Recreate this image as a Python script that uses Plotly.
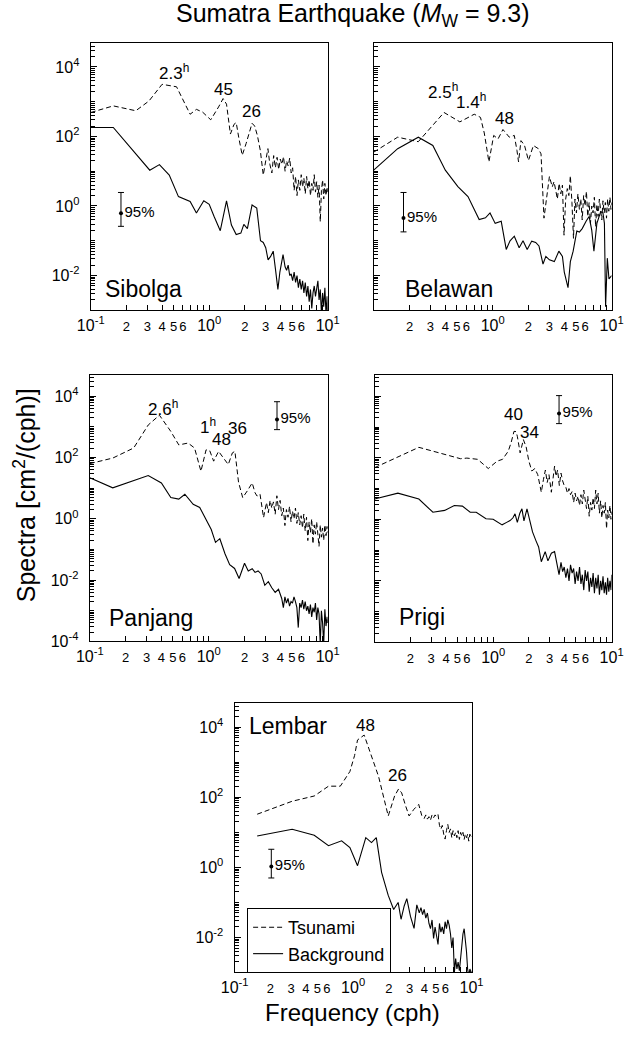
import numpy as np
import plotly.graph_objects as go

# ------------------------------------------------------------------
# Spectra of tide-gauge records, 2004 Sumatra earthquake.
# Each list holds (frequency [cph], log10 spectral density [cm^2/cph]).
# ------------------------------------------------------------------
sibolga_tsunami = [
    (0.100, 2.69), (0.155, 2.88), (0.240, 2.74), (0.310, 3.02), (0.400, 3.50), (0.530, 3.43),
    (0.690, 2.64), (0.780, 2.78), (0.880, 2.70), (1.030, 2.48), (1.200, 2.85), (1.310, 3.09),
    (1.400, 2.93), (1.510, 2.07), (1.620, 2.35), (1.690, 2.40), (1.780, 1.95), (1.900, 1.46),
    (2.050, 1.80), (2.300, 2.38), (2.420, 2.30), (2.550, 2.03), (2.700, 1.60), (2.860, 0.89),
    (3.000, 1.30), (3.130, 1.65), (3.250, 1.20), (3.380, 0.95), (3.500, 1.45), (3.620, 1.10),
    (3.740, 1.40), (3.860, 1.05), (3.980, 1.35), (4.110, 1.20), (4.240, 1.42), (4.370, 1.00),
    (4.500, 1.30), (4.640, 1.15), (4.780, 1.38), (4.920, 0.95), (5.060, 1.10), (5.210, 0.45),
    (5.360, 0.85), (5.510, 0.30), (5.660, 0.75), (5.820, 0.45), (5.980, 0.90), (6.140, 0.55),
    (6.300, 0.80), (6.470, 0.35), (6.640, 0.85), (6.810, 0.50), (6.980, 0.75), (7.160, 0.30),
    (7.340, 0.65), (7.520, 0.45), (7.700, 0.90), (7.890, 0.40), (8.080, 0.70), (8.270, 0.25),
    (8.460, 0.60), (8.660, -0.45), (8.860, 0.45), (9.060, 0.75), (9.260, 0.20), (9.470, 0.65),
    (9.680, 0.30), (9.890, 0.55), (10.00, 0.40),
]
sibolga_background = [
    (0.100, 2.26), (0.155, 2.26), (0.315, 1.03), (0.380, 1.19), (0.460, 0.89), (0.550, 0.27),
    (0.690, 0.13), (0.780, -0.20), (0.900, 0.15), (1.000, 0.05), (1.100, -0.30), (1.240, -0.71),
    (1.400, 0.15), (1.540, -0.55), (1.690, -0.82), (1.850, -0.78), (1.960, -0.53), (2.100, -0.65),
    (2.300, 0.03), (2.520, -0.06), (2.710, -1.00), (2.860, -1.05), (3.000, -1.20), (3.140, -1.55),
    (3.300, -1.45), (3.470, -1.30), (3.620, -1.80), (3.800, -2.40), (3.950, -1.90), (4.200, -1.40),
    (4.370, -1.75), (4.500, -1.85), (4.640, -1.70), (4.780, -2.00), (4.920, -1.95), (5.060, -2.15),
    (5.210, -1.90), (5.360, -2.20), (5.510, -2.00), (5.660, -2.35), (5.820, -2.10), (5.980, -2.40),
    (6.140, -2.15), (6.300, -2.50), (6.470, -2.20), (6.640, -2.60), (6.810, -2.30), (6.980, -2.75),
    (7.160, -2.40), (7.340, -2.95), (7.520, -2.50), (7.700, -2.30), (7.890, -2.60), (8.080, -2.40),
    (8.270, -2.15), (8.460, -2.70), (8.660, -2.40), (8.860, -3.10), (9.060, -2.50), (9.260, -2.90),
    (9.470, -2.35), (9.680, -3.10), (9.890, -2.60), (10.00, -3.20),
]

belawan_tsunami = [
    (0.100, 1.55), (0.159, 1.98), (0.237, 1.85), (0.390, 2.69), (0.530, 2.42), (0.700, 2.64),
    (0.790, 2.55), (0.850, 2.10), (0.930, 1.27), (1.020, 2.03), (1.110, 1.93), (1.220, 2.20),
    (1.380, 1.98), (1.520, 2.03), (1.600, 1.60), (1.650, 1.27), (1.730, 1.88), (1.850, 1.75),
    (2.000, 1.31), (2.200, 1.74), (2.420, 1.65), (2.550, 1.50), (2.700, -0.35), (2.850, 0.30),
    (3.000, 0.85), (3.170, 0.55), (3.280, 0.70), (3.390, 0.45), (3.500, 0.20), (3.620, 0.65),
    (3.740, 0.35), (3.860, 0.60), (3.980, -0.84), (4.110, 0.20), (4.240, 0.50), (4.370, 0.30),
    (4.500, 0.87), (4.640, 0.10), (4.780, -0.93), (4.920, 0.20), (5.060, -0.20), (5.210, 0.35),
    (5.360, -0.10), (5.510, 0.20), (5.660, -0.40), (5.820, 0.30), (5.980, 0.00), (6.140, 0.42),
    (6.300, -0.30), (6.470, 0.10), (6.640, -0.50), (6.810, 0.00), (6.980, -0.20), (7.160, 0.25),
    (7.340, -0.60), (7.520, 0.05), (7.700, -0.30), (7.890, 0.20), (8.080, -0.10), (8.270, -0.40),
    (8.460, 0.15), (8.660, -0.20), (8.860, 0.10), (9.060, -0.35), (9.260, 0.20), (9.470, -0.15),
    (9.680, 0.25), (9.890, -0.10), (10.00, 0.10),
]
belawan_background = [
    (0.100, 1.03), (0.159, 1.65), (0.237, 1.98), (0.314, 1.74), (0.400, 1.03), (0.510, 0.56),
    (0.620, 0.27), (0.770, -0.39), (0.870, -0.34), (0.950, -0.20), (1.050, -0.50), (1.180, -0.44),
    (1.300, -1.25), (1.400, -1.00), (1.520, -0.87), (1.670, -1.20), (1.800, -1.00), (1.950, -1.25),
    (2.130, -1.01), (2.300, -1.05), (2.450, -1.15), (2.650, -1.67), (2.800, -1.45), (3.000, -1.55),
    (3.300, -1.60), (3.600, -1.30), (3.860, -1.45), (4.000, -1.90), (4.300, -2.35), (4.500, -1.60),
    (4.750, -1.30), (5.100, -0.72), (5.360, -0.75), (5.660, -0.65), (6.100, -0.44), (6.470, -0.30),
    (6.810, -0.70), (7.100, -1.30), (7.520, -0.50), (8.100, -0.16), (8.460, -0.20), (8.700, -0.50),
    (8.900, -2.90), (9.200, -1.50), (9.500, -2.10), (10.00, -2.00),
]

panjang_tsunami = [
    (0.100, 1.80), (0.156, 1.98), (0.234, 2.31), (0.310, 3.06), (0.385, 3.38), (0.480, 2.85),
    (0.560, 2.41), (0.670, 2.47), (0.760, 2.31), (0.860, 1.55), (0.950, 2.25), (1.020, 2.22),
    (1.100, 1.88), (1.210, 2.20), (1.320, 2.00), (1.460, 1.77), (1.580, 2.15), (1.660, 2.20),
    (1.780, 1.20), (1.930, 0.69), (2.110, 0.91), (2.320, 1.17), (2.450, 0.85), (2.550, 0.74),
    (2.700, 0.80), (2.890, 0.04), (3.060, 0.53), (3.170, 0.20), (3.280, 0.60), (3.390, 0.35),
    (3.500, 0.55), (3.620, 0.15), (3.740, 0.75), (3.860, 0.30), (3.980, 0.60), (4.110, 0.10),
    (4.240, 0.35), (4.370, -0.22), (4.500, 0.30), (4.640, 0.05), (4.780, 0.40), (4.920, -0.10),
    (5.060, 0.25), (5.210, 0.00), (5.360, 0.35), (5.510, -0.15), (5.660, 0.20), (5.820, -0.20),
    (5.980, 0.10), (6.140, -0.30), (6.300, 0.15), (6.470, -0.40), (6.640, 0.05), (6.810, -0.71),
    (6.980, -0.10), (7.160, -0.45), (7.340, 0.00), (7.520, -0.82), (7.700, -0.20), (7.890, -0.50),
    (8.080, -0.10), (8.270, -0.55), (8.460, -0.90), (8.660, -0.20), (8.860, -0.60), (9.060, -0.30),
    (9.260, -0.70), (9.470, -0.20), (9.680, -0.55), (9.890, -0.25), (10.00, -0.45),
]
panjang_background = [
    (0.100, 1.34), (0.156, 1.01), (0.310, 1.41), (0.400, 1.17), (0.480, 0.69), (0.560, 0.64),
    (0.630, 0.80), (0.740, 0.47), (0.840, 0.37), (0.950, -0.01), (1.050, -0.35), (1.140, -0.77),
    (1.240, -0.65), (1.370, -1.14), (1.500, -1.50), (1.650, -1.62), (1.800, -1.95), (2.000, -1.45),
    (2.150, -1.70), (2.320, -1.63), (2.450, -1.75), (2.600, -1.70), (2.760, -1.80), (2.960, -2.17),
    (3.170, -2.05), (3.390, -2.25), (3.620, -2.40), (3.860, -2.30), (4.110, -2.60), (4.240, -2.90),
    (4.370, -2.55), (4.500, -2.75), (4.640, -2.60), (4.780, -2.85), (4.920, -2.70), (5.060, -2.75),
    (5.210, -2.55), (5.360, -2.70), (5.510, -2.90), (5.660, -3.55), (5.820, -2.75), (5.980, -2.90),
    (6.140, -2.65), (6.300, -2.95), (6.470, -2.70), (6.640, -3.00), (6.810, -2.85), (6.980, -3.10),
    (7.160, -2.80), (7.340, -3.20), (7.520, -2.90), (7.700, -3.05), (7.890, -2.75), (8.080, -3.30),
    (8.270, -2.90), (8.460, -3.10), (8.660, -4.10), (8.860, -3.00), (9.060, -3.40), (9.260, -4.10),
    (9.470, -2.95), (9.680, -3.50), (9.890, -3.20), (10.00, -3.40),
]

prigi_tsunami = [
    (0.100, 1.68), (0.152, 2.00), (0.236, 2.34), (0.350, 2.16), (0.530, 1.97), (0.600, 1.99),
    (0.740, 1.95), (0.910, 1.65), (1.080, 1.89), (1.200, 1.95), (1.260, 2.05), (1.340, 2.21),
    (1.420, 2.50), (1.500, 2.86), (1.560, 2.85), (1.600, 2.70), (1.690, 2.16), (1.800, 2.59),
    (1.900, 2.35), (2.000, 1.90), (2.120, 1.57), (2.250, 1.65), (2.380, 1.45), (2.550, 0.88),
    (2.660, 1.30), (2.760, 1.60), (2.860, 1.20), (2.960, 1.45), (3.100, 0.88), (3.200, 1.30),
    (3.300, 1.73), (3.390, 1.40), (3.500, 1.60), (3.620, 1.10), (3.740, 1.50), (3.860, 1.25),
    (3.980, 1.10), (4.110, 1.04), (4.240, 0.85), (4.370, 1.00), (4.500, 0.80), (4.640, 0.90),
    (4.780, 0.55), (4.920, 0.85), (5.060, 0.60), (5.210, 0.75), (5.360, 0.45), (5.510, 0.80),
    (5.660, 0.50), (5.820, 0.95), (5.980, 0.60), (6.140, 0.35), (6.300, 0.75), (6.470, 0.10),
    (6.640, 0.55), (6.810, 0.30), (6.980, 0.70), (7.160, 0.35), (7.340, 0.95), (7.520, 0.50),
    (7.700, 0.85), (7.890, 0.20), (8.080, 0.60), (8.270, 0.05), (8.460, 0.45), (8.660, 0.20),
    (8.860, 0.55), (9.060, -0.30), (9.260, 0.30), (9.470, 0.05), (9.680, 0.45), (9.890, 0.00),
    (10.00, 0.25),
]
prigi_background = [
    (0.100, 0.66), (0.157, 0.85), (0.236, 0.66), (0.310, 0.23), (0.390, 0.29), (0.470, 0.45),
    (0.550, 0.43), (0.640, 0.23), (0.720, 0.23), (0.870, 0.02), (1.000, 0.00), (1.190, -0.18),
    (1.300, -0.10), (1.390, -0.04), (1.470, 0.05), (1.530, 0.18), (1.600, -0.10), (1.680, 0.20),
    (1.750, 0.34), (1.820, -0.05), (1.930, 0.34), (2.050, -0.10), (2.150, -0.41), (2.300, -0.70),
    (2.420, -0.90), (2.550, -1.38), (2.660, -1.15), (2.750, -1.05), (2.900, -1.35), (3.100, -1.10),
    (3.300, -1.05), (3.450, -1.50), (3.600, -1.80), (3.740, -1.40), (3.860, -1.70), (3.980, -1.55),
    (4.110, -1.90), (4.240, -1.60), (4.370, -2.00), (4.500, -1.48), (4.640, -1.75), (4.780, -1.60),
    (4.920, -2.10), (5.060, -1.70), (5.210, -2.00), (5.360, -1.55), (5.510, -2.10), (5.660, -1.80),
    (5.820, -2.30), (5.980, -1.65), (6.140, -2.00), (6.300, -1.70), (6.470, -2.35), (6.640, -1.90),
    (6.810, -2.20), (6.980, -1.75), (7.160, -2.40), (7.340, -1.90), (7.520, -2.25), (7.700, -1.80),
    (7.890, -2.45), (8.080, -2.00), (8.270, -2.30), (8.460, -1.85), (8.660, -2.40), (8.860, -2.05),
    (9.060, -2.45), (9.260, -1.90), (9.470, -2.35), (9.680, -2.00), (9.890, -2.30), (10.00, -1.80),
]

lembar_tsunami = [
    (0.155, 1.52), (0.306, 1.89), (0.470, 2.04), (0.620, 2.32), (0.780, 2.32), (0.940, 2.74),
    (1.030, 3.20), (1.090, 3.64), (1.240, 3.78), (1.400, 3.26), (1.640, 2.60), (1.980, 1.47),
    (2.240, 2.04), (2.420, 2.24), (2.570, 2.13), (2.780, 1.75), (2.970, 1.47), (3.260, 1.66),
    (3.580, 1.80), (3.800, 1.48), (3.980, 1.40), (4.110, 1.50), (4.240, 1.38), (4.370, 1.45),
    (4.500, 1.35), (4.640, 1.50), (4.780, 1.42), (4.920, 1.50), (5.060, 1.45), (5.210, 1.51),
    (5.360, 1.20), (5.510, 1.09), (5.660, 1.20), (5.820, 0.95), (5.980, 0.81), (6.140, 1.05),
    (6.300, 1.23), (6.470, 1.00), (6.640, 1.10), (6.810, 0.85), (6.980, 1.05), (7.160, 0.90),
    (7.340, 1.00), (7.520, 0.85), (7.700, 1.05), (7.890, 0.80), (8.080, 1.00), (8.270, 0.90),
    (8.460, 1.00), (8.660, 0.80), (8.860, 0.95), (9.060, 0.85), (9.260, 0.95), (9.470, 0.75),
    (9.680, 0.95), (9.890, 0.85), (10.00, 0.90),
]
lembar_background = [
    (0.155, 0.90), (0.306, 1.09), (0.470, 0.92), (0.620, 0.62), (0.800, 0.76), (0.940, 0.57),
    (1.090, 0.05), (1.280, 0.85), (1.430, 0.71), (1.570, 0.85), (1.740, -0.14), (1.980, -0.80),
    (2.200, -1.20), (2.400, -1.00), (2.540, -1.48), (2.700, -1.10), (2.840, -0.89), (3.050, -1.40),
    (3.270, -1.74), (3.450, -1.07), (3.620, -1.30), (3.740, -1.15), (3.860, -1.35), (3.980, -1.20),
    (4.110, -1.45), (4.240, -1.30), (4.370, -1.60), (4.500, -1.75), (4.640, -1.50), (4.780, -2.03),
    (4.920, -1.70), (5.060, -1.90), (5.210, -2.20), (5.360, -1.60), (5.510, -1.85), (5.660, -1.70),
    (5.820, -1.90), (5.980, -1.55), (6.140, -1.75), (6.300, -1.50), (6.470, -1.65), (6.640, -1.90),
    (6.810, -2.30), (6.980, -2.00), (7.160, -3.00), (7.340, -2.60), (7.520, -2.90), (7.700, -2.70),
    (7.890, -2.95), (8.080, -2.60), (8.270, -2.20), (8.460, -1.90), (8.660, -1.75), (8.860, -2.00),
    (9.060, -2.40), (9.260, -2.90), (9.470, -3.10), (9.680, -2.90), (9.890, -3.00), (10.00, -2.95),
]

# 95% confidence intervals: frequency, centre, lower, upper [cm^2/cph]
ci_freq = [0.18, 0.178, 3.75, 3.6, 0.204]
ci_center = [0.62, 0.45, 1740, 2750, 1.07]
ci_lower = [0.26, 0.18, 810, 1290, 0.50]
ci_upper = [2.45, 2.45, 6600, 10500, 3.3]

# Peak-period labels: text, log10(frequency), log10(spectrum)
sibolga_peaks = [("2.3<sup>h</sup>", -0.30, 3.85), ("45", 0.117, 3.35), ("26", 0.360, 2.72)]
belawan_peaks = [("2.5<sup>h</sup>", -0.42, 3.30), ("1.4<sup>h</sup>", -0.185, 3.01), ("48", 0.097, 2.52)]
panjang_peaks = [("2.6<sup>h</sup>", -0.388, 3.62), ("1<sup>h</sup>", -0.008, 3.04),
                 ("48", 0.105, 2.59), ("36", 0.242, 2.94)]
prigi_peaks = [("40", 0.168, 3.40), ("34", 0.306, 2.83)]
lembar_peaks = [("48", 0.101, 4.06), ("26", 0.377, 2.62)]

# ------------------------------------------------------------------
W, H = 638, 1037
FONT = "Liberation Sans, Arial, Helvetica, sans-serif"

panels = [
    dict(name="Sibolga", box=(80, 43, 327, 313), ylo=-3, ts=sibolga_tsunami, bg=sibolga_background,
         peaks=sibolga_peaks, label=(-0.895, -2.40), ylabels=True, first_x=True),
    dict(name="Belawan", box=(375, 43, 623, 313), ylo=-3, ts=belawan_tsunami, bg=belawan_background,
         peaks=belawan_peaks, label=(-0.75, -2.40), ylabels=False, first_x=False),
    dict(name="Panjang", box=(79, 378, 327, 647), ylo=-4, ts=panjang_tsunami, bg=panjang_background,
         peaks=panjang_peaks, label=(-0.857, -3.23), ylabels=True, first_x=True),
    dict(name="Prigi", box=(376, 378, 623, 648), ylo=-4, ts=prigi_tsunami, bg=prigi_background,
         peaks=prigi_peaks, label=(-0.81, -3.19), ylabels=False, first_x=False),
    dict(name="Lembar", box=(230, 709, 477, 981), ylo=-3, ts=lembar_tsunami, bg=lembar_background,
         peaks=lembar_peaks, label=(-0.895, 4.03), ylabels=True, first_x=True),
]


def small(d):
    return f"<span style='font-size:13px'>{d}</span>"


def x_ticks(first):
    """Labelled frequency ticks (decades and 2..6 multiples)."""
    vals, text = [], []
    for dec in (0.1, 1.0):
        for k in range(1, 7):
            v = round(k * dec, 3)
            if k == 1:
                if v == 0.1 and not first:
                    continue
                vals.append(v)
                text.append("10<sup>-1</sup>" if v == 0.1 else "10<sup>0</sup>")
            else:
                vals.append(v)
                text.append(small(k))
    vals.append(10)
    text.append("10<sup>1</sup>")
    return vals, text


X_MINOR = [0.7, 0.8, 0.9, 7, 8, 9]
Y_FINE = [k * 10.0 ** e for e in range(-4, 5) for k in range(2, 10)]

fig = go.Figure()
layout = dict(
    width=W, height=H, margin=dict(l=0, r=0, t=0, b=0),
    paper_bgcolor="white", plot_bgcolor="white",
    font=dict(family=FONT, size=16, color="black"),
    showlegend=True,
)
annotations = []

for i, p in enumerate(panels):
    n = i + 1
    xa, ya = f"x{n}", f"y{n}"
    l, t, r, b = p["box"]
    xv, xt = x_ticks(p["first_x"])
    even = [e for e in range(p["ylo"], 5) if e % 2 == 0]
    odd = [e for e in range(p["ylo"], 5) if e % 2 != 0]
    layout[f"xaxis{n}"] = dict(
        type="log", range=[-1, 1], domain=[l / W, r / W], anchor=ya,
        showline=True, mirror=True, linecolor="black", linewidth=1.3,
        ticks="inside", ticklen=5, tickwidth=1, tickcolor="black",
        tickmode="array", tickvals=xv, ticktext=xt, tickfont=dict(size=16), tickangle=0,
        minor=dict(tickmode="array", tickvals=X_MINOR, ticks="inside", ticklen=5,
                   tickwidth=1, tickcolor="black", showgrid=False),
        showgrid=False, zeroline=False,
    )
    layout[f"yaxis{n}"] = dict(
        type="log", range=[p["ylo"], 4.7], domain=[1 - b / H, 1 - t / H], anchor=xa,
        showline=True, mirror=True, linecolor="black", linewidth=1.3,
        ticks="inside", ticklen=6, tickwidth=1, tickcolor="black",
        tickmode="array", tickvals=[10.0 ** e for e in even],
        ticktext=[f"10<sup>{e}</sup>" for e in even],
        showticklabels=p["ylabels"], tickfont=dict(size=16), ticklabelstandoff=7,
        minor=dict(tickmode="array", tickvals=[10.0 ** e for e in odd] + Y_FINE,
                   ticks="inside", ticklen=4, tickwidth=1, tickcolor="black", showgrid=False),
        showgrid=False, zeroline=False,
    )

    is_legend = p["name"] == "Lembar"
    fig.add_trace(go.Scatter(
        x=[q[0] for q in p["ts"]], y=[10.0 ** q[1] for q in p["ts"]],
        mode="lines", line=dict(color="black", width=1, dash="5px,3px"),
        name="Tsunami", showlegend=is_legend, xaxis=xa, yaxis=ya,
    ))
    fig.add_trace(go.Scatter(
        x=[q[0] for q in p["bg"]], y=[10.0 ** q[1] for q in p["bg"]],
        mode="lines", line=dict(color="black", width=1.1),
        name="Background", showlegend=is_legend, xaxis=xa, yaxis=ya,
    ))
    # 95% confidence bar
    fig.add_trace(go.Scatter(
        x=[ci_freq[i]], y=[ci_center[i]], mode="markers+text",
        marker=dict(size=4, color="black"),
        error_y=dict(type="data", symmetric=False,
                     array=[ci_upper[i] - ci_center[i]],
                     arrayminus=[ci_center[i] - ci_lower[i]],
                     width=3, thickness=1, color="black"),
        text=["95%"], textposition="middle right", textfont=dict(size=15),
        showlegend=False, xaxis=xa, yaxis=ya, hoverinfo="skip",
    ))

    lx, ly = p["label"]
    annotations.append(dict(text=p["name"], x=lx, y=ly, xref=xa, yref=ya,
                            xanchor="left", yanchor="middle", showarrow=False,
                            font=dict(size=23)))
    for txt, px, py in p["peaks"]:
        annotations.append(dict(text=txt, x=px, y=py, xref=xa, yref=ya,
                                xanchor="center", yanchor="middle", showarrow=False,
                                font=dict(size=17)))

annotations += [
    dict(text="Sumatra Earthquake (<i>M</i><sub>W</sub> = 9.3)", x=353 / W, y=1 - 15 / H,
         xref="paper", yref="paper", xanchor="center", yanchor="middle",
         showarrow=False, font=dict(size=25)),
    dict(text="Spectra [cm<sup>2</sup>/(cph)]", x=11 / W, y=1 - 500 / H, textangle=-90,
         xref="paper", yref="paper", xanchor="center", yanchor="middle",
         showarrow=False, font=dict(size=25)),
    dict(text="Frequency (cph)", x=353 / W, y=1 - 1021 / H,
         xref="paper", yref="paper", xanchor="center", yanchor="middle",
         showarrow=False, font=dict(size=24)),
]
layout["annotations"] = annotations
layout["legend"] = dict(
    x=243 / W, y=1 - 916 / H, xanchor="left", yanchor="top",
    bgcolor="white", bordercolor="black", borderwidth=1,
    font=dict(size=18), tracegroupgap=0, itemwidth=30,
)
fig.update_layout(**layout)
fig.write_html("out.html")
